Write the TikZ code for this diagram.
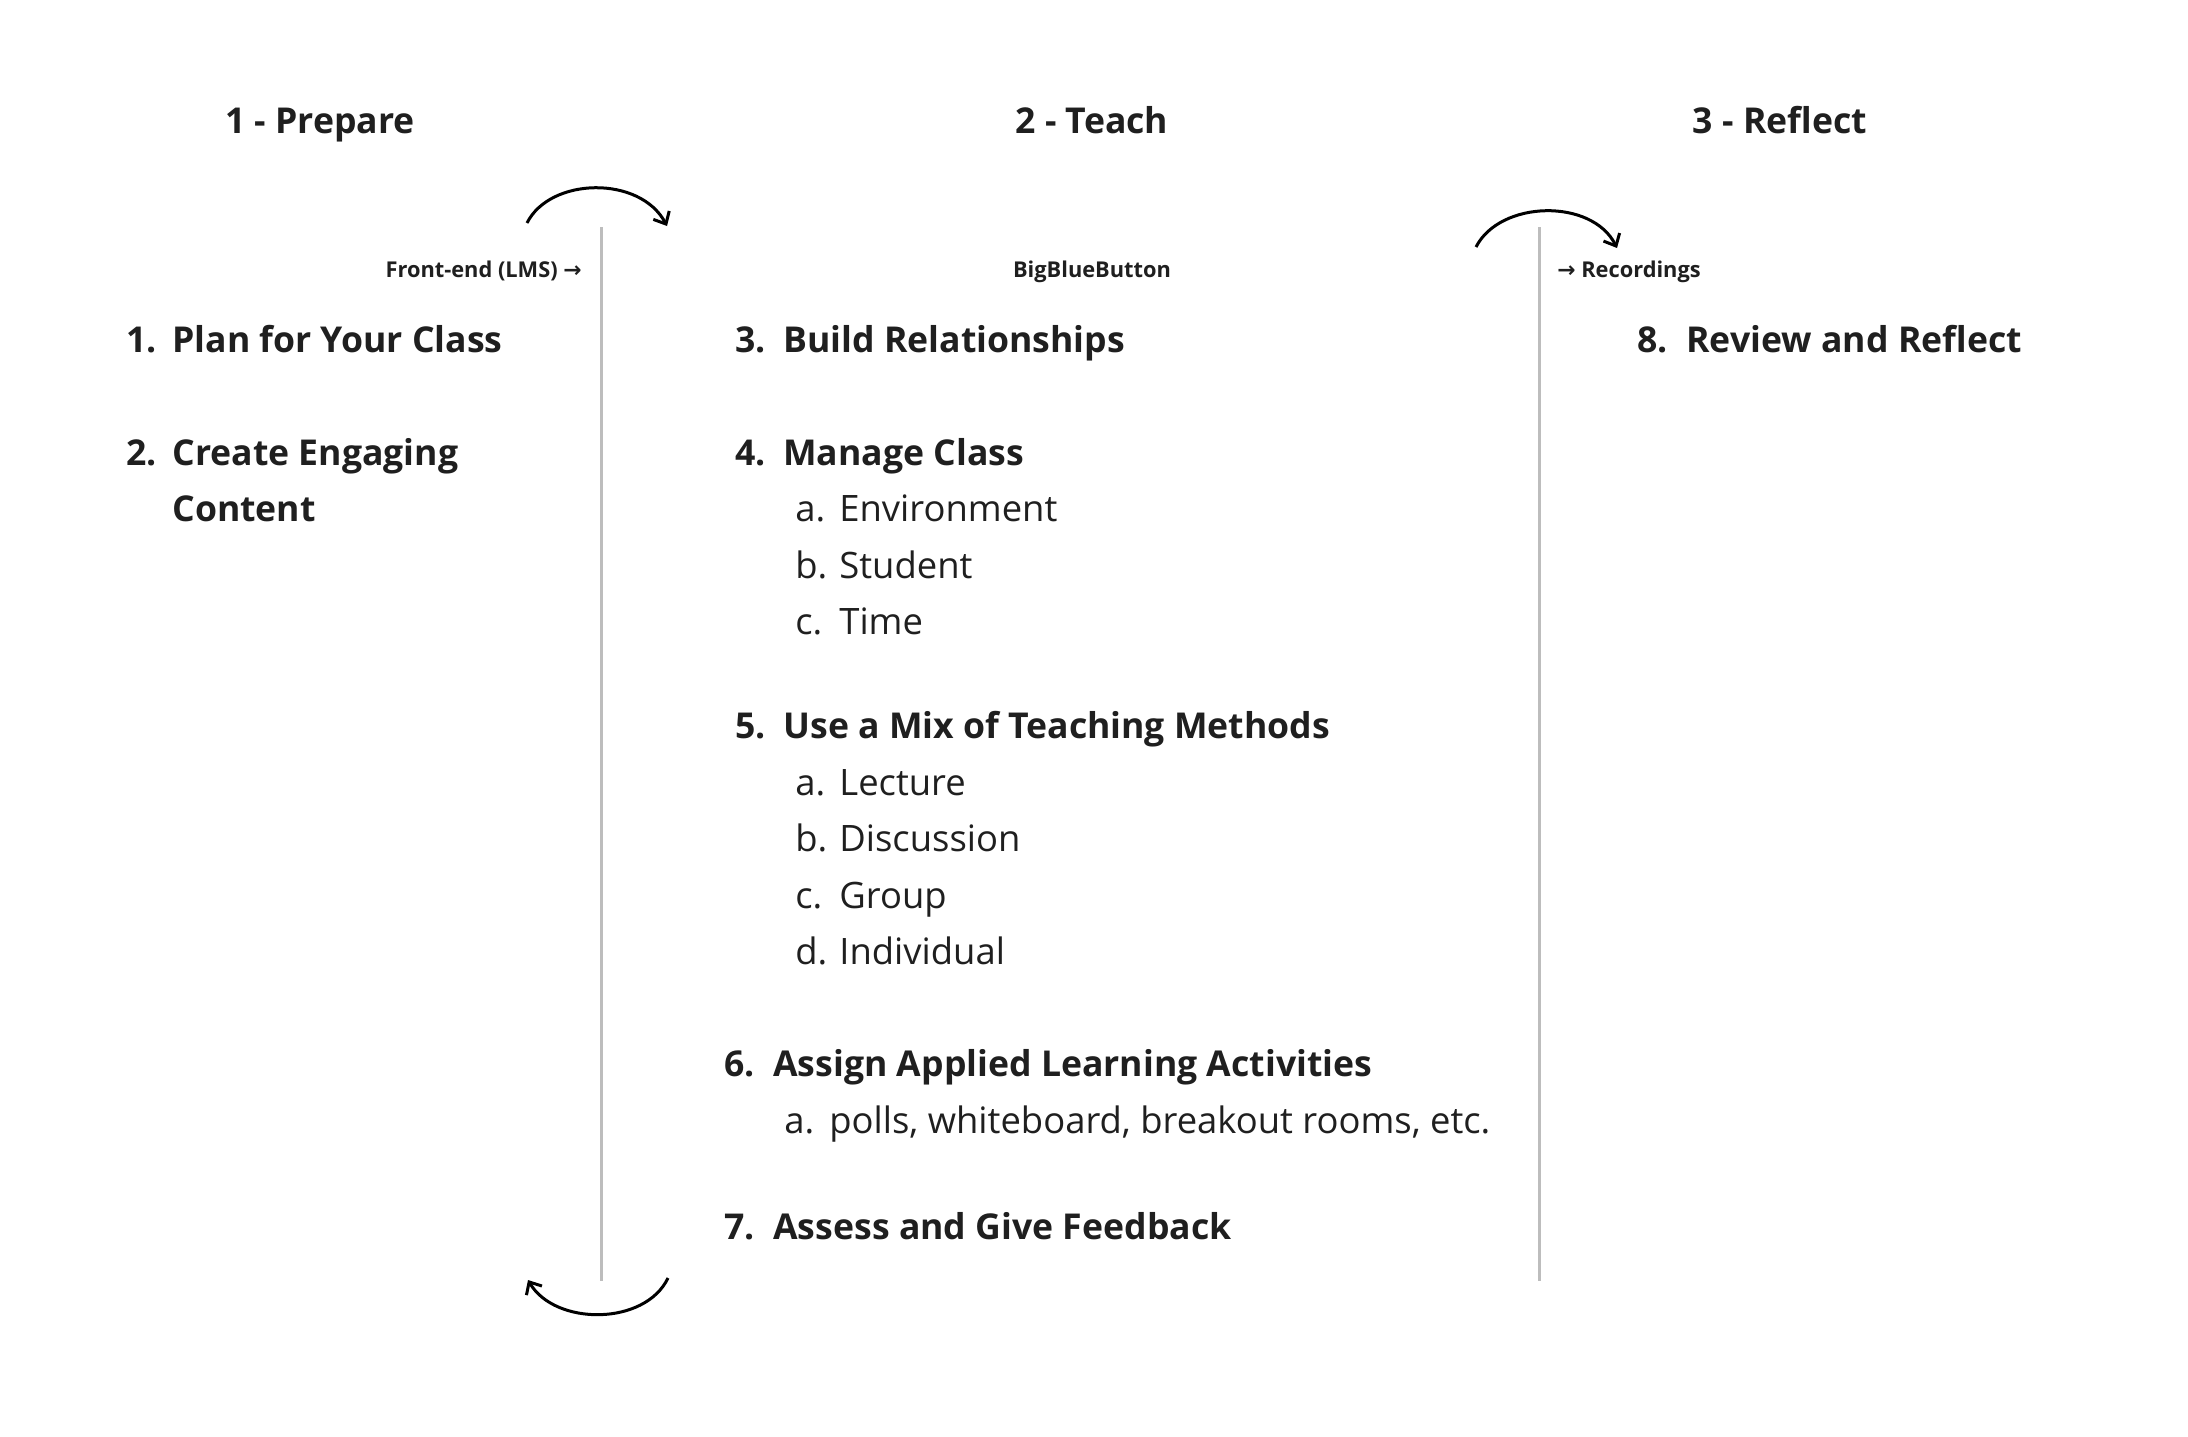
\documentclass[tikz,border=0pt]{standalone}
\usepackage{fontspec}
\setmainfont{Open Sans}
\newfontfamily\symfont{DejaVu Sans}
\usetikzlibrary{arrows.meta}
\definecolor{ink}{HTML}{1F1F1F}
\definecolor{rulegray}{HTML}{BDBDBD}
\newcommand{\numbox}[2]{\makebox[#1][l]{#2}}
\begin{document}
\begin{tikzpicture}[x=0.5pt,y=-0.5pt,
  coltitle/.style={anchor=base,inner sep=0pt,text=ink,font=\bfseries\fontsize{17.8}{21}\selectfont},
  tool/.style={inner sep=0pt,text=ink,font=\bfseries\fontsize{10.9}{13}\selectfont},
  item/.style={anchor=base west,inner sep=0pt,text=ink,font=\bfseries\fontsize{17.8}{21}\selectfont},
  subitem/.style={anchor=base west,inner sep=0pt,text=ink,font=\fontsize{18.2}{22}\selectfont},
  divider/.style={draw=rulegray,line width=1.5pt},
  cycle/.style={draw=black,line width=1.5pt,-{Straight Barb[length=5pt,width=9pt,line width=1.5pt]}}]
\useasboundingbox (0,0) rectangle (2188,1436);
% column titles
\node[coltitle] (t1) at (320,133) {1 - Prepare};
\node[coltitle] (t2) at (1092,133) {2 - Teach};
\node[coltitle] (t3) at (1780,133) {3 - Reflect};
% tools
\node[tool,anchor=base east] (lms) at (582,277) {Front-end (LMS) {\symfont\bfseries →}};
\node[tool,anchor=base] (bbb) at (1092,277) {BigBlueButton};
\node[tool,anchor=base west] (rec) at (1557,277) {{\symfont\bfseries →} Recordings};
% dividers
\coordinate (d1t) at (601,227);
\coordinate (d1b) at (601,1281);
\coordinate (d2t) at (1539,227);
\coordinate (d2b) at (1539,1281);
\draw[divider] (d1t) -- (d1b);
\draw[divider] (d2t) -- (d2b);
% cycle arrows
\coordinate (a1s) at (527,223);
\coordinate (a1e) at (667,226);
\coordinate (a2s) at (1476,247);
\coordinate (a2e) at (1617,248);
\coordinate (a3s) at (668,1278);
\coordinate (a3e) at (528,1280);
\draw[cycle] (a1s) .. controls (550,177) and (640,175) .. (a1e);
\draw[cycle] (a2s) .. controls (1500,200) and (1592,198) .. (a2e);
\draw[cycle] (a3s) .. controls (645,1326) and (555,1326) .. (a3e);
% column 1
\node[item] (i1) at (126,352) {\numbox{23pt}{1.}Plan for Your Class};
\node[item] (i2) at (126,465) {\numbox{23pt}{2.}Create Engaging};
\node[item] (i2b) at (172,521) {Content};
% column 2
\node[item] (i3) at (735,352) {\numbox{24pt}{3.}Build Relationships};
\node[item] (i4) at (735,465) {\numbox{24pt}{4.}Manage Class};
\node[subitem] (i4a) at (795,521) {\numbox{22pt}{a.}Environment};
\node[subitem] (i4b) at (795,578) {\numbox{22pt}{b.}Student};
\node[subitem] (i4c) at (795,634) {\numbox{22pt}{c.}Time};
\node[item] (i5) at (735,738) {\numbox{24pt}{5.}Use a Mix of Teaching Methods};
\node[subitem] (i5a) at (795,795) {\numbox{22pt}{a.}Lecture};
\node[subitem] (i5b) at (795,851) {\numbox{22pt}{b.}Discussion};
\node[subitem] (i5c) at (795,908) {\numbox{22pt}{c.}Group};
\node[subitem] (i5d) at (795,964) {\numbox{22pt}{d.}Individual};
\node[item] (i6) at (724,1076) {\numbox{24.5pt}{6.}Assign Applied Learning Activities};
\node[subitem] (i6a) at (784,1133) {\numbox{22.5pt}{a.}polls, whiteboard, breakout rooms, etc.};
\node[item] (i7) at (724,1239) {\numbox{24.5pt}{7.}Assess and Give Feedback};
% column 3
\node[item] (i8) at (1637,352) {\numbox{24.5pt}{8.}Review and Reflect};
\end{tikzpicture}
\end{document}
